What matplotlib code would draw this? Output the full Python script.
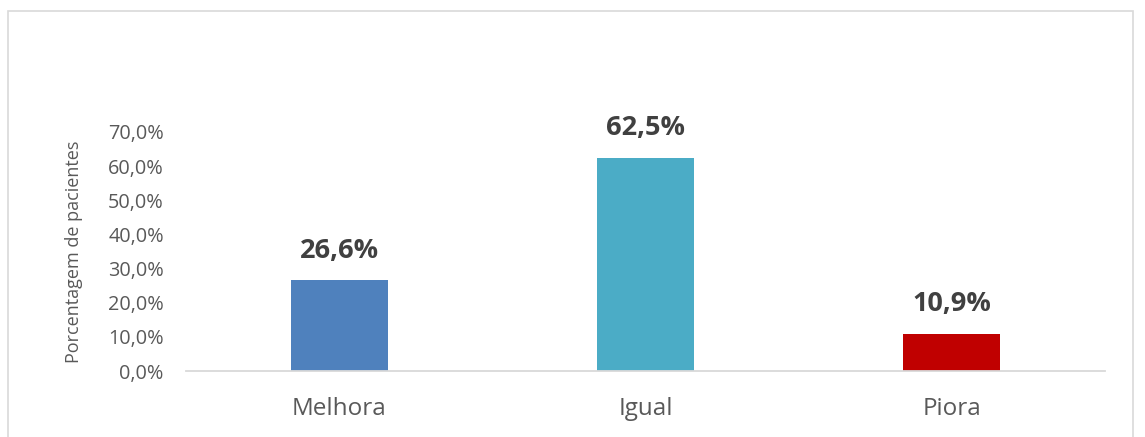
import matplotlib.pyplot as plt
from matplotlib.patches import Rectangle

categorias = ['Melhora', 'Igual', 'Piora']
valores = [26.6, 62.5, 10.9]
cores = ['#4F81BD', '#4BACC6', '#C00000']
yticks = [0, 10, 20, 30, 40, 50, 60, 70]

plt.rcParams['font.family'] = ['Open Sans', 'DejaVu Sans']

fig = plt.figure(figsize=(11.45, 4.37), dpi=100)
ax = fig.add_axes([186/1145, 1 - 371/437, (1105-186)/1145, (371-132)/437])

x = range(len(categorias))
bars = ax.bar(x, valores, width=0.317, color=cores, zorder=2)

for xi, v in zip(x, valores):
    ax.annotate(('%.1f%%' % v).replace('.', ','), (xi, v), xytext=(0, 12),
                textcoords='offset points', ha='center', va='bottom',
                fontsize=19.5, fontweight='bold', color='#404040', annotation_clip=False)

ax.set_xlim(-0.5, 2.5)
ax.set_ylim(0, 70)
ax.set_yticks(yticks)
ax.set_yticklabels([('%.1f%%' % t).replace('.', ',') for t in yticks])
ax.set_xticks(list(x))
ax.set_xticklabels(categorias)
ax.tick_params(axis='y', length=0, pad=16, labelsize=14.3, labelcolor='#595959')
ax.tick_params(axis='x', length=0, pad=19, labelsize=17.5, labelcolor='#595959')

for s in ['top', 'right', 'left']:
    ax.spines[s].set_visible(False)
ax.spines['bottom'].set_color('#D9D9D9')
ax.spines['bottom'].set_linewidth(1.3)

ax.set_ylabel('Porcentagem de pacientes', fontsize=13, color='#595959', labelpad=18)

# moldura do grafico
fig.patches.append(Rectangle((8/1145, -0.05), (1133-8)/1145, 1 - 11/437 + 0.05,
                             transform=fig.transFigure, fill=False,
                             edgecolor='#D9D9D9', linewidth=1.2))

fig.savefig('out.png', dpi=100)
